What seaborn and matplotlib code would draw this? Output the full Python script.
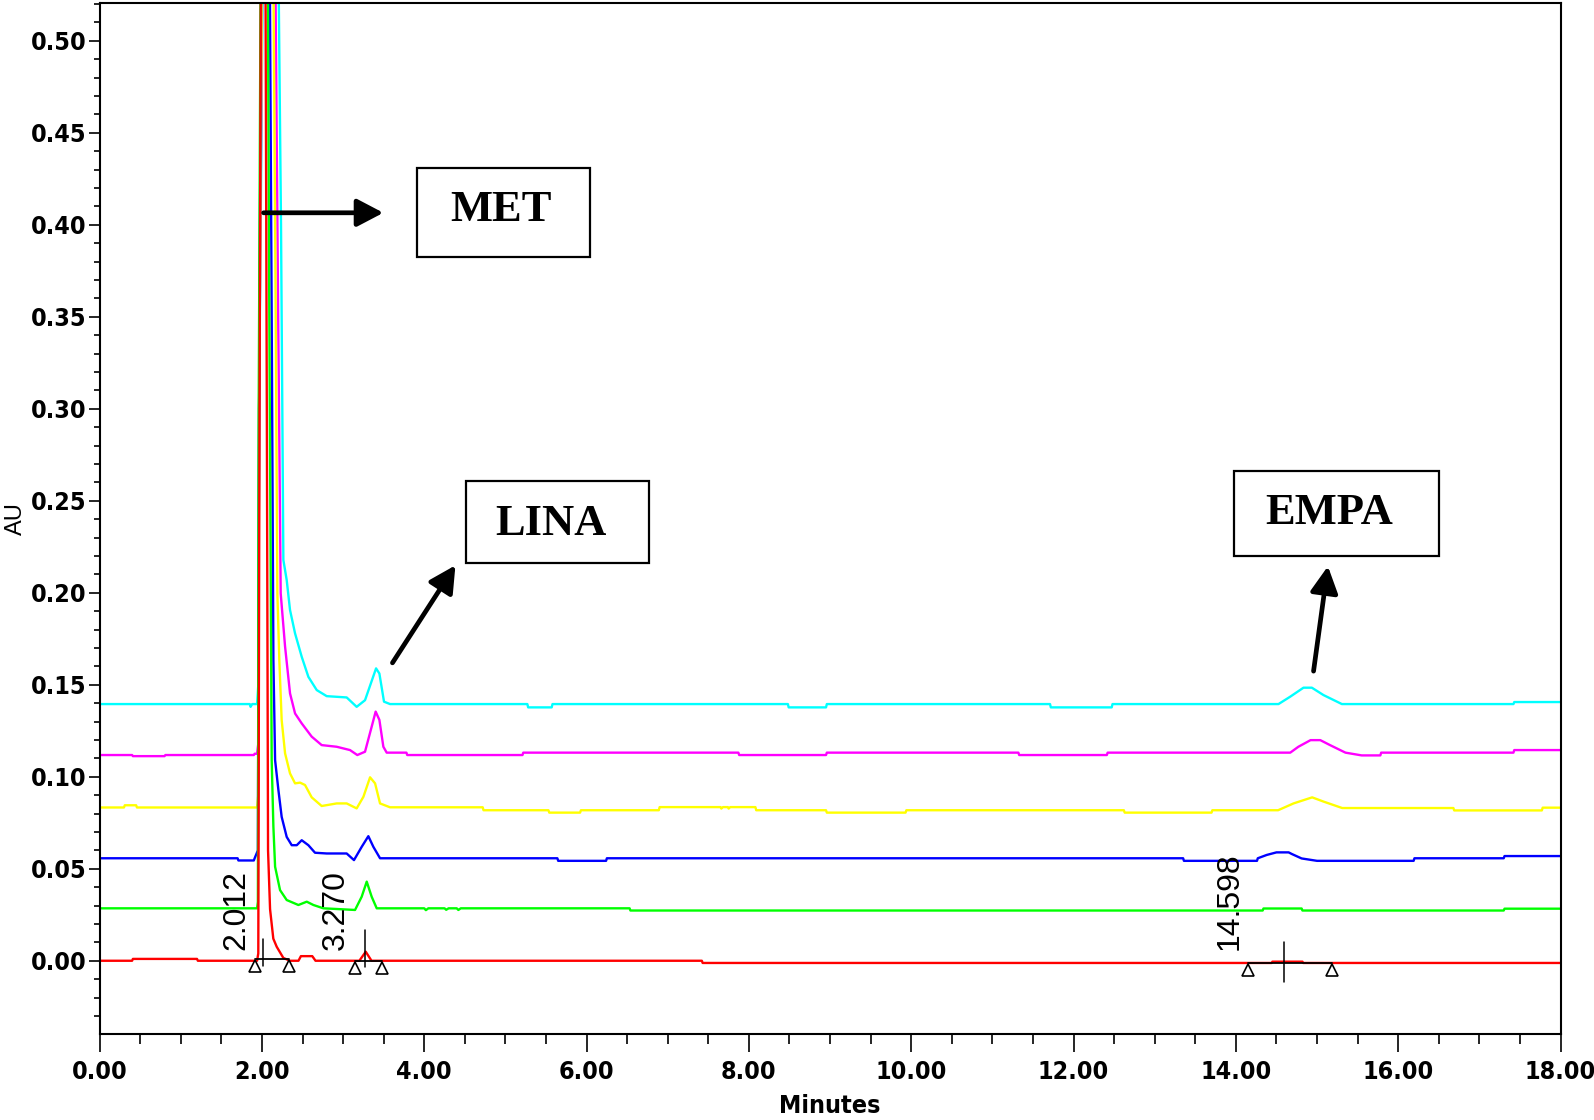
import numpy as np
import pandas as pd
import matplotlib
matplotlib.use("Agg")
import matplotlib.pyplot as plt
from matplotlib.ticker import MultipleLocator
from matplotlib.patches import Rectangle
from matplotlib import font_manager as fm
import seaborn as sns

# ---------------- data ----------------
trace_names = ["Cyan", "Magenta", "Yellow", "Blue", "Green", "Red"]
trace_colors = ["#00ffff", "#ff00ff", "#ffff00", "#0000ff", "#00ff00", "#ff0000"]

red_points = [
    (0.00, 0.0), (0.40, 0.0), (0.41, 0.0010), (1.20, 0.0010), (1.21, 0.0), (1.94, 0.0),
    (1.955, 0.004), (1.970, 0.30), (2.015, 0.95), (2.060, 0.30), (2.075, 0.060),
    (2.100, 0.028), (2.140, 0.012), (2.182, 0.0076), (2.264, 0.0015), (2.346, 0.0),
    (2.45, 0.0), (2.48, 0.0025), (2.62, 0.0025), (2.66, 0.0), (3.200, 0.0),
    (3.279, 0.0049), (3.350, 0.0), (7.42, 0.0), (7.43, -0.0012), (14.44, -0.0012),
    (14.45, -0.0005), (14.82, -0.0005), (14.83, -0.0012), (18.00, -0.0012),
]
green_points = [
    (0.00, 0.0285), (1.94, 0.0285), (1.950, 0.032), (1.960, 0.30), (2.030, 1.0),
    (2.085, 0.40), (2.120, 0.109), (2.141, 0.0728), (2.162, 0.0511), (2.223, 0.0384),
    (2.305, 0.0330), (2.449, 0.0303), (2.552, 0.0321), (2.634, 0.0303), (2.757, 0.0285),
    (3.147, 0.0276), (3.229, 0.0348), (3.291, 0.0430), (3.352, 0.0348), (3.414, 0.0285),
    (4.00, 0.0285), (4.02, 0.0275), (4.05, 0.0285), (4.25, 0.0285), (4.27, 0.0277),
    (4.30, 0.0285), (4.40, 0.0285), (4.42, 0.0276), (4.45, 0.0285), (6.53, 0.0285),
    (6.54, 0.0273), (14.33, 0.0273), (14.34, 0.0284), (14.81, 0.0284), (14.82, 0.0273),
    (17.30, 0.0273), (17.31, 0.0283), (18.00, 0.0283),
]
blue_points = [
    (0.00, 0.0557), (1.70, 0.0557), (1.71, 0.0545), (1.90, 0.0545), (1.91, 0.0557),
    (1.950, 0.060), (1.965, 0.30), (2.040, 1.0), (2.120, 0.35), (2.141, 0.1634),
    (2.162, 0.1090), (2.203, 0.0927), (2.243, 0.0782), (2.305, 0.0673), (2.367, 0.0628),
    (2.429, 0.0628), (2.490, 0.0655), (2.572, 0.0628), (2.654, 0.0587), (2.798, 0.0583),
    (3.044, 0.0583), (3.134, 0.0547), (3.229, 0.0619), (3.311, 0.0677), (3.373, 0.0619),
    (3.455, 0.0557), (5.64, 0.0557), (5.65, 0.0543), (6.24, 0.0543), (6.25, 0.0557),
    (13.35, 0.0557), (13.36, 0.0543), (14.26, 0.0543), (14.27, 0.0557), (14.38, 0.0575),
    (14.50, 0.0589), (14.65, 0.0589), (14.69, 0.0580), (14.81, 0.0556), (15.00, 0.0543),
    (16.19, 0.0543), (16.20, 0.0557), (17.30, 0.0557), (17.31, 0.0569), (18.00, 0.0569),
]
yellow_points = [
    (0.00, 0.0833), (0.30, 0.0833), (0.31, 0.0845), (0.45, 0.0845), (0.46, 0.0833),
    (1.94, 0.0833), (1.955, 0.090), (1.965, 0.30), (2.070, 1.0), (2.170, 0.35),
    (2.190, 0.1997), (2.214, 0.1634), (2.243, 0.1308), (2.285, 0.1127), (2.346, 0.1018),
    (2.408, 0.0964), (2.470, 0.0968), (2.531, 0.0955), (2.613, 0.0888), (2.736, 0.0841),
    (2.921, 0.0855), (3.044, 0.0855), (3.167, 0.0828), (3.250, 0.0891), (3.332, 0.0997),
    (3.394, 0.0964), (3.455, 0.0855), (3.578, 0.0834), (4.72, 0.0834), (4.73, 0.0818),
    (5.53, 0.0818), (5.54, 0.0805), (5.92, 0.0805), (5.93, 0.0818), (6.89, 0.0818),
    (6.90, 0.0835), (7.65, 0.0835), (7.66, 0.0827), (7.68, 0.0835), (7.74, 0.0835),
    (7.75, 0.0827), (7.77, 0.0835), (8.08, 0.0835), (8.09, 0.0818), (8.95, 0.0818),
    (8.96, 0.0805), (9.93, 0.0805), (9.94, 0.0818), (12.62, 0.0818), (12.63, 0.0805),
    (13.70, 0.0805), (13.71, 0.0818), (14.52, 0.0818), (14.71, 0.0855), (14.94, 0.0888),
    (15.08, 0.0865), (15.31, 0.0830), (16.68, 0.0830), (16.69, 0.0817), (17.77, 0.0817),
    (17.78, 0.0832), (18.00, 0.0832),
]
magenta_points = [
    (0.00, 0.1118), (0.40, 0.1118), (0.41, 0.1112), (0.80, 0.1112), (0.81, 0.1118),
    (1.90, 0.1118), (1.91, 0.1125), (1.94, 0.1125), (1.955, 0.118), (1.965, 0.30),
    (2.080, 1.0), (2.200, 0.35), (2.231, 0.1997), (2.285, 0.1707), (2.346, 0.1453),
    (2.408, 0.1344), (2.490, 0.1290), (2.613, 0.1218), (2.736, 0.1172), (2.921, 0.1163),
    (3.085, 0.1145), (3.175, 0.1118), (3.270, 0.1136), (3.352, 0.1272), (3.401, 0.1354),
    (3.447, 0.1309), (3.496, 0.1163), (3.537, 0.1131), (3.78, 0.1131), (3.79, 0.1118),
    (5.21, 0.1118), (5.22, 0.1131), (7.87, 0.1131), (7.88, 0.1118), (8.95, 0.1118),
    (8.96, 0.1131), (11.32, 0.1131), (11.33, 0.1118), (12.41, 0.1118), (12.42, 0.1131),
    (14.67, 0.1131), (14.77, 0.1163), (14.92, 0.1199), (15.04, 0.1199), (15.16, 0.1172),
    (15.35, 0.1131), (15.55, 0.1116), (15.78, 0.1116), (15.79, 0.1131), (17.42, 0.1131),
    (17.43, 0.1145), (18.00, 0.1145),
]
cyan_points = [
    (0.00, 0.1395), (1.85, 0.1395), (1.86, 0.1380), (1.88, 0.1395), (1.94, 0.1395),
    (1.955, 0.150), (1.965, 0.30), (2.100, 1.0), (2.235, 0.40), (2.264, 0.2178),
    (2.305, 0.2069), (2.346, 0.1906), (2.408, 0.1779), (2.490, 0.1652), (2.572, 0.1543),
    (2.675, 0.1471), (2.798, 0.1438), (3.044, 0.1431), (3.167, 0.1380), (3.270, 0.1416),
    (3.406, 0.1589), (3.447, 0.1561), (3.504, 0.1408), (3.578, 0.1395), (5.27, 0.1395),
    (5.28, 0.1377), (5.57, 0.1377), (5.58, 0.1395), (8.48, 0.1395), (8.49, 0.1377),
    (8.95, 0.1377), (8.96, 0.1395), (11.71, 0.1395), (11.72, 0.1377), (12.47, 0.1377),
    (12.48, 0.1395), (14.525, 0.1395), (14.669, 0.1435), (14.833, 0.1484),
    (14.936, 0.1484), (15.079, 0.1444), (15.306, 0.1395), (17.42, 0.1395),
    (17.43, 0.1406), (18.00, 0.1406),
]

# integrated peaks (red trace)
peak_labels = ["2.012", "3.270", "14.598"]
peak_times = [2.012, 3.270, 14.598]
peak_starts = [1.915, 3.147, 14.155]
peak_ends = [2.338, 3.476, 15.180]
peak_bases = [0.0008, -0.0003, -0.0014]
peak_mark_top = [0.012, 0.0167, 0.0103]
peak_mark_bottom = [-0.003, -0.0033, -0.0114]

# compound call-outs
compound_names = ["MET", "LINA", "EMPA"]
arrow_tails = [(2.02, 0.4065), (3.608, 0.1619), (14.957, 0.1574)]
arrow_tips = [(3.496, 0.4065), (4.384, 0.2149), (15.134, 0.2144)]
box_corners = [(3.908, 0.3824), (4.518, 0.2164), (13.979, 0.2199)]
box_sizes = [(2.135, 0.0487), (2.256, 0.0444), (2.520, 0.0464)]
label_centers = [(4.946, 0.4078), (5.56, 0.2373), (15.146, 0.2431)]

x_ticks = [0, 2, 4, 6, 8, 10, 12, 14, 16, 18]
y_ticks = [0.00, 0.05, 0.10, 0.15, 0.20, 0.25, 0.30, 0.35, 0.40, 0.45, 0.50]

# ---------------- build dataframe ----------------
all_points = [cyan_points, magenta_points, yellow_points, blue_points, green_points, red_points]
frames = []
for name, pts in zip(trace_names, all_points):
    arr = np.array(pts)
    frames.append(pd.DataFrame({"Minutes": arr[:, 0], "AU": arr[:, 1], "trace": name}))
df = pd.concat(frames, ignore_index=True)

# ---------------- style ----------------
sns.set_theme(style="white")
plt.rcParams["font.family"] = ["Liberation Sans", "DejaVu Sans"]
plt.rcParams["axes.edgecolor"] = "black"

names = {f.name for f in fm.fontManager.ttflist}
if "Liberation Sans Narrow" in names:
    tick_family, tick_stretch, tick_size = ["Liberation Sans Narrow", "DejaVu Sans"], "normal", 20
else:
    tick_family, tick_stretch, tick_size = ["DejaVu Sans"], "condensed", 18

fig = plt.figure(figsize=(15.94, 11.2), dpi=100, facecolor="white")
ax = fig.add_axes([0.0625, 0.0768, 0.9165, 0.9205])
ax.set_facecolor("white")

sns.lineplot(data=df, x="Minutes", y="AU", hue="trace", hue_order=trace_names,
             palette=dict(zip(trace_names, trace_colors)), estimator=None,
             sort=False, legend=False, linewidth=1.7, ax=ax)

# integration marks
for s, e, b, pt, top, bot in zip(peak_starts, peak_ends, peak_bases, peak_times,
                                 peak_mark_top, peak_mark_bottom):
    ax.plot([s, e], [b, b], color="black", lw=1.3, zorder=4)
    ax.plot([pt, pt], [bot, top], color="black", lw=1.1, zorder=4)
    ax.plot([s, e], [b - 0.0035, b - 0.0035], linestyle="none", marker="^",
            markersize=8, markerfacecolor="white", markeredgecolor="black",
            markeredgewidth=1.2, zorder=5)
for lab, s in zip(peak_labels, peak_starts):
    ax.text(s - 0.05, 0.006, lab, rotation=90, ha="right", va="bottom",
            fontsize=23, color="black", family=["Liberation Sans", "DejaVu Sans"])

# call-out boxes and arrows
for name, tail, tip, corner, size, cen in zip(compound_names, arrow_tails, arrow_tips,
                                              box_corners, box_sizes, label_centers):
    ax.annotate("", xy=tip, xytext=tail,
                arrowprops=dict(arrowstyle="-|>,head_length=0.8,head_width=0.42",
                                lw=3.4, color="black", mutation_scale=20,
                                shrinkA=0, shrinkB=0), zorder=6)
    ax.add_patch(Rectangle(corner, size[0], size[1], fill=False, edgecolor="black",
                           lw=1.6, zorder=6))
    ax.text(cen[0], cen[1], name, ha="center", va="center", fontsize=32,
            fontweight="bold", color="black",
            family=["Liberation Serif", "DejaVu Serif"], zorder=7)

# axes
ax.set_xlim(0, 18)
ax.set_ylim(-0.0398, 0.5205)
ax.set_xticks(x_ticks, labels=[f"{v:.2f}" for v in x_ticks], fontsize=tick_size,
              fontweight="bold", family=tick_family, fontstretch=tick_stretch,
              color="black")
ax.set_yticks(y_ticks, labels=[f"{v:.2f}" for v in y_ticks], fontsize=tick_size,
              fontweight="bold", family=tick_family, fontstretch=tick_stretch,
              color="black")
ax.xaxis.set_minor_locator(MultipleLocator(0.5))
ax.yaxis.set_minor_locator(MultipleLocator(0.01))
ax.tick_params(axis="x", which="major", direction="out", length=13, width=1.2,
               color="black", pad=6, bottom=True)
ax.tick_params(axis="x", which="minor", direction="out", length=7, width=1.2,
               color="black", bottom=True)
ax.tick_params(axis="y", which="major", direction="out", length=8, width=1.2,
               color="black", pad=1.5, left=True)
ax.tick_params(axis="y", which="minor", direction="out", length=4.5, width=1.2,
               color="black", left=True)
for sp in ax.spines.values():
    sp.set_visible(True)
    sp.set_color("black")
    sp.set_linewidth(1.5)

ax.set_xlabel("Minutes", fontsize=tick_size, fontweight="bold", family=tick_family,
              fontstretch=tick_stretch, labelpad=7, color="black")
ax.set_ylabel("AU", fontsize=17, family=["Liberation Sans", "DejaVu Sans"],
              color="black")
ax.yaxis.label.set_va("center")
ax.yaxis.set_label_coords(-0.057, 0.5)
ax.grid(False)

fig.savefig("out.png", dpi=100, facecolor="white")
